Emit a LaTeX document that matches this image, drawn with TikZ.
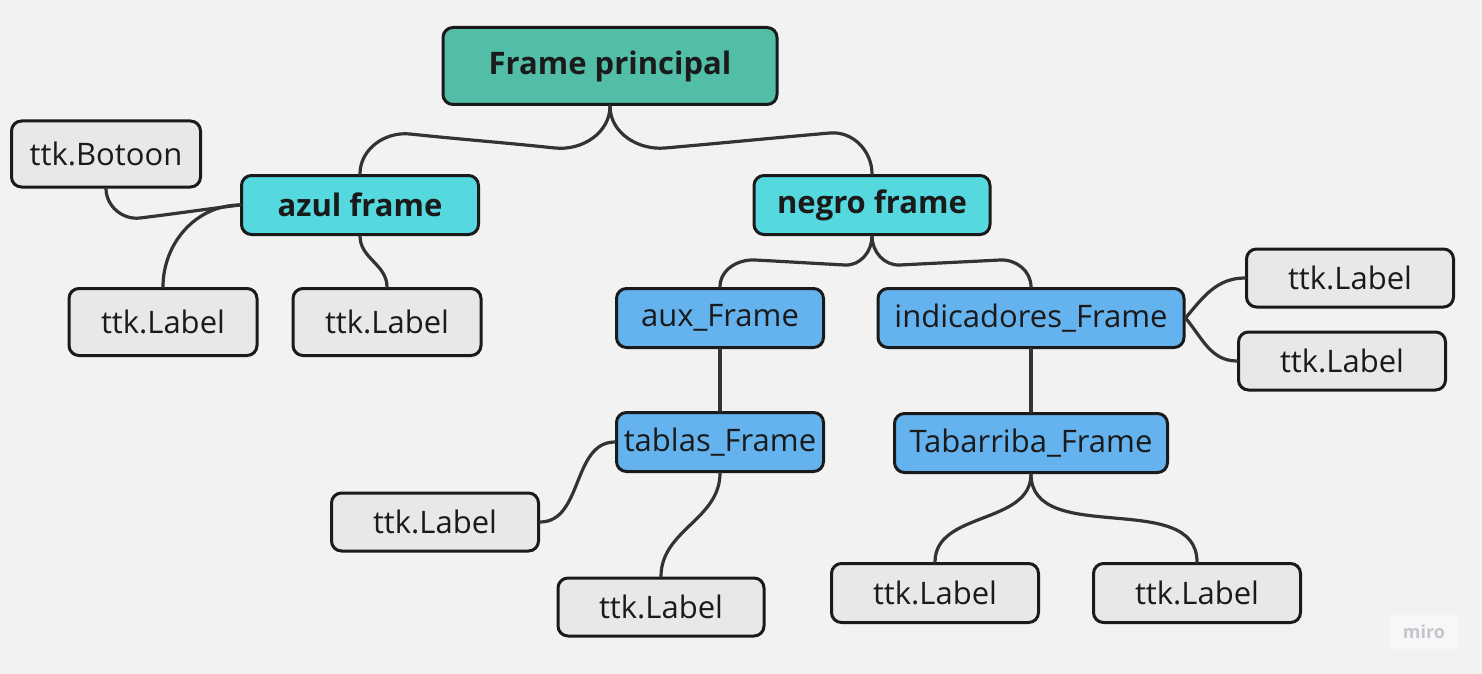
\documentclass[tikz,border=0pt]{standalone}
\usepackage{fontspec}
\setmainfont{Open Sans}
\definecolor{bgc}{HTML}{F2F2F2}
\definecolor{mainc}{HTML}{52BEA8}
\definecolor{cyanc}{HTML}{55D8DE}
\definecolor{bluec}{HTML}{64B2EE}
\definecolor{grayc}{HTML}{E8E8E8}
\definecolor{bordc}{HTML}{1A1A1A}
\definecolor{connc}{HTML}{333333}
\definecolor{txtc}{HTML}{1A1A1A}
\definecolor{miroc}{HTML}{C4C4CC}
\begin{document}
\begin{tikzpicture}[x=0.5pt,y=0.5pt,
  box/.style={draw=bordc, line width=1.5pt, rounded corners=5pt, inner sep=0pt,
    text=txtc, font=\fontsize{15.5}{18}\selectfont},
  sz/.style 2 args={minimum width=#1*0.5pt, minimum height=#2*0.5pt},
  grayb/.style={box, fill=grayc},
  blueb/.style={box, fill=bluec},
  cyanb/.style={box, fill=cyanc, font=\fontsize{15.5}{18}\selectfont\bfseries},
  mainb/.style={box, fill=mainc, font=\fontsize{15.5}{18}\selectfont\bfseries},
  conn/.style={draw=connc, line width=1.6pt, line cap=round}]
\fill[bgc] (0,0) rectangle (1482,-674);
\useasboundingbox (0,0) rectangle (1482,-674);

% nodes
\node[mainb, sz={334}{77}] (main) at (610,-66) {Frame principal};
\node[cyanb, sz={237}{59}] (azul) at (360,-205) {azul frame};
\node[cyanb, sz={236}{59}] (negro) at (872,-205) {negro frame};
\node[grayb, sz={189}{66}] (botoon) at (106,-154) {ttk.Botoon};
\node[grayb, sz={188}{67}] (lab1) at (163,-322) {ttk.Label};
\node[grayb, sz={188}{67}] (lab2) at (387,-322) {ttk.Label};
\node[blueb, sz={207}{59}] (aux) at (720,-318) {aux\_Frame};
\node[blueb, sz={306}{59}] (indic) at (1031,-318) {indicadores\_Frame};
\node[grayb, sz={207}{58}] (r1) at (1350,-278) {ttk.Label};
\node[grayb, sz={207}{58}] (r2) at (1342,-361) {ttk.Label};
\node[blueb, sz={207}{59}] (tablas) at (720,-442) {tablas\_Frame};
\node[blueb, sz={273}{59}] (tabarriba) at (1031,-443) {Tabarriba\_Frame};
\node[grayb, sz={207}{58}] (t1) at (435,-522) {ttk.Label};
\node[grayb, sz={206}{58}] (t2) at (661,-607) {ttk.Label};
\node[grayb, sz={207}{59}] (b1) at (935,-593) {ttk.Label};
\node[grayb, sz={207}{59}] (b2) at (1197,-593) {ttk.Label};

% watermark
\node[fill=white!35!bgc, rounded corners=2pt, minimum width=34pt, minimum height=17pt,
  text=miroc, font=\fontsize{9}{10}\selectfont\bfseries] (miro) at (1424,-632) {miro};

% connectors
\draw[conn] (main.south) to[out=-90,in=-6] (555,-148) to[out=174,in=-6] (410,-134)
  to[out=174,in=90] (azul.north);
\draw[conn] (main.south) to[out=-90,in=185] (665,-148) to[out=5,in=185] (830,-133)
  to[out=5,in=90] (negro.north);
\draw[conn] (azul.west) to[out=187,in=7] (140,-218) to[out=187,in=-90] (botoon.south);
\draw[conn] (azul.west) to[out=180,in=90] (lab1.north);
\draw[conn] (azul.south) to[out=-90,in=90] (lab2.north);
\draw[conn] (negro.south) to[out=-90,in=-3] (845,-265) to[out=177,in=-3] (755,-260)
  to[out=177,in=90] (aux.north);
\draw[conn] (negro.south) to[out=-90,in=183] (900,-265) to[out=3,in=183] (1000,-260)
  to[out=3,in=90] (indic.north);
\draw[conn] (aux.south) -- (tablas.north);
\draw[conn] (indic.south) -- (tabarriba.north);
\draw[conn] (indic.east) to[out=50,in=180] (r1.west);
\draw[conn] (indic.east) to[out=-50,in=180] (r2.west);
\draw[conn] (tablas.west) to[out=180,in=0] (t1.east);
\draw[conn] (tablas.south) to[out=-90,in=90] (t2.north);
\draw[conn] (tabarriba.south) to[out=-90,in=90] (b1.north);
\draw[conn] (tabarriba.south) to[out=-90,in=90] (b2.north);
\end{tikzpicture}
\end{document}
